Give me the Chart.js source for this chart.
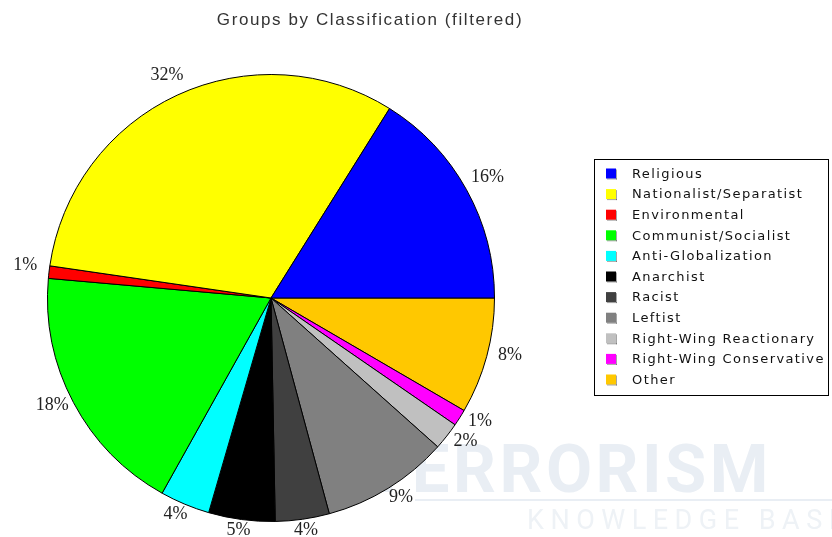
<!DOCTYPE html>
<html>
<head>
    <script src="https://cdn.jsdelivr.net/npm/chart.js@4.4.0/dist/chart.umd.min.js"></script>
    <style>
        body { margin: 0; background: #fff; }
    </style>
</head>
<body>

    <canvas id="myChart" width="832" height="537"></canvas>

    <script type="text/javascript">
        // data, in legend order (percent of groups)
        const categories = ['Religious', 'Nationalist/Separatist', 'Environmental', 'Communist/Socialist',
            'Anti-Globalization', 'Anarchist', 'Racist', 'Leftist', 'Right-Wing Reactionary',
            'Right-Wing Conservative', 'Other'];
        const shares = [16.1, 31.6, 0.9, 18.3, 3.6, 4.8, 3.9, 9.2, 2.0, 1.2, 8.4];
        const colors = ['#0000ff', '#ffff00', '#ff0000', '#00ff00', '#00ffff', '#000000',
            '#404040', '#808080', '#c0c0c0', '#ff00ff', '#ffc800'];
        const chartTitle = 'Groups by Classification (filtered)';

        // the original goes counter-clockwise from 3 o'clock, chart.js goes clockwise,
        // so feed it reversed and start at 90deg
        const revLabels = categories.slice().reverse();
        const revShares = shares.slice().reverse();
        const revColors = colors.slice().reverse();
        const total = shares.reduce((a, b) => a + b, 0);

        const extras = {
            id: 'extras',
            beforeDatasetsDraw(chart) {
                const ctx = chart.ctx;
                ctx.save();
                // faint watermark behind the pie
                ctx.fillStyle = '#e9eef4';
                ctx.font = 'bold 67px Roboto';
                ctx.textAlign = 'right';
                ctx.textBaseline = 'alphabetic';
                ctx.letterSpacing = '3.5px';
                ctx.fillText('TERRORISM', 772, 492);
                ctx.fillRect(415, 499, 417, 2);
                ctx.fillStyle = '#eef2f6';
                ctx.font = '27px Roboto';
                ctx.textAlign = 'left';
                ctx.letterSpacing = '6.5px';
                ctx.fillText('KNOWLEDGE BASE', 527, 529);
                ctx.restore();
            },
            afterDraw(chart) {
                const ctx = chart.ctx;
                ctx.save();

                // title
                ctx.fillStyle = '#333';
                ctx.font = '17px "Liberation Sans"';
                ctx.letterSpacing = '1.6px';
                ctx.textAlign = 'center';
                ctx.textBaseline = 'middle';
                ctx.fillText(chartTitle, 370, 20);

                // percent labels outside the slices
                const meta = chart.getDatasetMeta(0);
                ctx.font = '18px "Liberation Serif"';
                ctx.letterSpacing = '0px';
                ctx.fillStyle = '#222';
                meta.data.forEach((arc, i) => {
                    const mid = (arc.startAngle + arc.endAngle) / 2;
                    const c = Math.cos(mid), s = Math.sin(mid);
                    const x = arc.x + c * (arc.outerRadius + 24);
                    const y = arc.y + s * (arc.outerRadius + 16) - 5;
                    ctx.fillText(Math.round(revShares[i] / total * 100) + '%', x, y);
                });

                // legend box
                ctx.strokeStyle = '#000';
                ctx.lineWidth = 1;
                ctx.strokeRect(594.5, 159.5, 234, 236);
                ctx.textAlign = 'left';
                ctx.font = '13px "DejaVu Sans"';
                ctx.letterSpacing = '1.4px';
                categories.forEach((name, i) => {
                    const y = 173.5 + i * 20.6;
                    ctx.fillStyle = colors[i];
                    ctx.fillRect(606, y - 5, 10, 10);
                    ctx.fillStyle = 'rgba(0,0,0,0.35)';
                    ctx.fillRect(616, y - 4, 1, 10);
                    ctx.fillRect(607, y + 5, 10, 1);
                    ctx.fillStyle = '#111';
                    ctx.fillText(name, 632, y + 1);
                });
                ctx.restore();
            }
        };

        const config = {
            type: 'pie',
            data: {
                labels: revLabels,
                datasets: [{
                    data: revShares,
                    backgroundColor: revColors,
                    borderColor: '#000',
                    borderWidth: 1
                }]
            },
            options: {
                responsive: false,
                animation: false,
                events: [],
                rotation: 90,
                layout: {
                    padding: { left: 47, right: 337, top: 74, bottom: 15 }
                },
                plugins: {
                    legend: { display: false },
                    title: { display: false },
                    tooltip: { enabled: false }
                }
            },
            plugins: [extras]
        };

        const chart = new Chart(document.getElementById('myChart'), config);
    </script>
</body>
</html>
